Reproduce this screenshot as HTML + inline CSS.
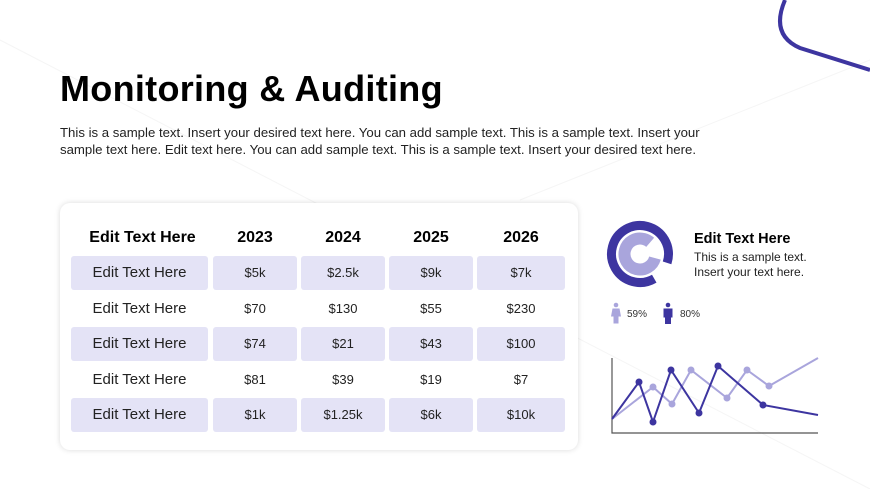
<!DOCTYPE html>
<html><head><style>
body{margin:0;width:870px;height:489px;background:#fff;position:relative;overflow:hidden;font-family:"Liberation Sans",sans-serif;}
h1{position:absolute;left:60px;top:68px;margin:0;font-size:36px;font-weight:bold;color:#000;letter-spacing:0.3px}
.p{position:absolute;left:60px;top:124px;font-size:13.2px;line-height:17px;color:#222;width:670px}
.card{position:absolute;left:60px;top:203px;width:518px;height:247px;background:#fff;border-radius:10px;box-shadow:0 0 6px rgba(0,0,0,0.15)}
.c{position:absolute;height:34px;line-height:34px;text-align:center;font-size:15px;color:#222}
.s{background:#e4e3f6;border-radius:3px}
.h{font-weight:bold;font-size:16px;color:#000}
.sm{font-size:13px}
</style></head><body>
<svg width="870" height="489" style="position:absolute;left:0;top:0">
<line x1="0" y1="40" x2="870" y2="489" stroke="#f5f5f5" stroke-width="1"/>
<line x1="870" y1="60" x2="520" y2="200" stroke="#f5f5f5" stroke-width="1"/>
<path d="M785 0 Q770 35 800 48 L870 70" fill="none" stroke="#3d35a0" stroke-width="4"/>
</svg>
<h1>Monitoring &amp; Auditing</h1>
<div class="p">This is a sample text. Insert your desired text here. You can add sample text. This is a sample text. Insert your sample text here. Edit text here. You can add sample text. This is a sample text. Insert your desired text here.</div>
<div class="card"></div>
<div style="position:absolute;left:0;top:0">
<div class="c h" style="left:71px;top:221px;width:143px">Edit Text Here</div>
<div class="c h" style="left:213px;top:221px;width:84px">2023</div>
<div class="c h" style="left:301px;top:221px;width:84px">2024</div>
<div class="c h" style="left:389px;top:221px;width:84px">2025</div>
<div class="c h" style="left:477px;top:221px;width:88px">2026</div>

<div class="c s" style="left:71px;top:256px;width:137px">Edit Text Here</div>
<div class="c s sm" style="left:213px;top:256px;width:84px">$5k</div>
<div class="c s sm" style="left:301px;top:256px;width:84px">$2.5k</div>
<div class="c s sm" style="left:389px;top:256px;width:84px">$9k</div>
<div class="c s sm" style="left:477px;top:256px;width:88px">$7k</div>

<div class="c" style="left:71px;top:292px;width:137px">Edit Text Here</div>
<div class="c sm" style="left:213px;top:292px;width:84px">$70</div>
<div class="c sm" style="left:301px;top:292px;width:84px">$130</div>
<div class="c sm" style="left:389px;top:292px;width:84px">$55</div>
<div class="c sm" style="left:477px;top:292px;width:88px">$230</div>

<div class="c s" style="left:71px;top:327px;width:137px">Edit Text Here</div>
<div class="c s sm" style="left:213px;top:327px;width:84px">$74</div>
<div class="c s sm" style="left:301px;top:327px;width:84px">$21</div>
<div class="c s sm" style="left:389px;top:327px;width:84px">$43</div>
<div class="c s sm" style="left:477px;top:327px;width:88px">$100</div>

<div class="c" style="left:71px;top:363px;width:137px">Edit Text Here</div>
<div class="c sm" style="left:213px;top:363px;width:84px">$81</div>
<div class="c sm" style="left:301px;top:363px;width:84px">$39</div>
<div class="c sm" style="left:389px;top:363px;width:84px">$19</div>
<div class="c sm" style="left:477px;top:363px;width:88px">$7</div>

<div class="c s" style="left:71px;top:398px;width:137px">Edit Text Here</div>
<div class="c s sm" style="left:213px;top:398px;width:84px">$1k</div>
<div class="c s sm" style="left:301px;top:398px;width:84px">$1.25k</div>
<div class="c s sm" style="left:389px;top:398px;width:84px">$6k</div>
<div class="c s sm" style="left:477px;top:398px;width:88px">$10k</div>
</div>
<svg width="870" height="489" style="position:absolute;left:0;top:0">
<circle cx="640" cy="254" r="28.5" fill="none" stroke="#3d35a0" stroke-width="9" stroke-dasharray="158 179" transform="rotate(60 640 254)"/>
<circle cx="640" cy="254" r="15.5" fill="none" stroke="#a9a5dc" stroke-width="12" stroke-dasharray="80 97.4" transform="rotate(15 640 254)"/>
<text x="694" y="243" font-size="14.5" font-weight="bold" fill="#000">Edit Text Here</text>
<text x="694" y="261" font-size="12" fill="#222">This is a sample text.</text>
<text x="694" y="276" font-size="12" fill="#222">Insert your text here.</text>
<g fill="#a9a5dc"><circle cx="616" cy="305" r="2.3"/><path d="M612.5 308.5h7l1.5 8h-2.5v7h-5v-7h-2.5z"/></g>
<text x="627" y="317" font-size="10" fill="#333">59%</text>
<g fill="#3d35a0"><circle cx="668" cy="305" r="2.3"/><rect x="663.5" y="308.5" width="9" height="9"/><rect x="665" y="316" width="6" height="8"/></g>
<text x="680" y="317" font-size="10" fill="#333">80%</text>
<path d="M612 358V433H818" fill="none" stroke="#555" stroke-width="1.2"/>
<polyline points="612,419 653,387 672,404 691,370 727,398 747,370 769,386 818,358" fill="none" stroke="#a9a5dc" stroke-width="2"/>
<g fill="#a9a5dc"><circle cx="653" cy="387" r="3.5"/><circle cx="672" cy="404" r="3.5"/><circle cx="691" cy="370" r="3.5"/><circle cx="727" cy="398" r="3.5"/><circle cx="747" cy="370" r="3.5"/><circle cx="769" cy="386" r="3.5"/></g>
<polyline points="612,419 639,382 653,422 671,370 699,413 718,366 763,405 818,415" fill="none" stroke="#3d35a0" stroke-width="2"/>
<g fill="#3d35a0"><circle cx="639" cy="382" r="3.5"/><circle cx="653" cy="422" r="3.5"/><circle cx="671" cy="370" r="3.5"/><circle cx="699" cy="413" r="3.5"/><circle cx="718" cy="366" r="3.5"/><circle cx="763" cy="405" r="3.5"/></g>
</svg>
</body></html>
